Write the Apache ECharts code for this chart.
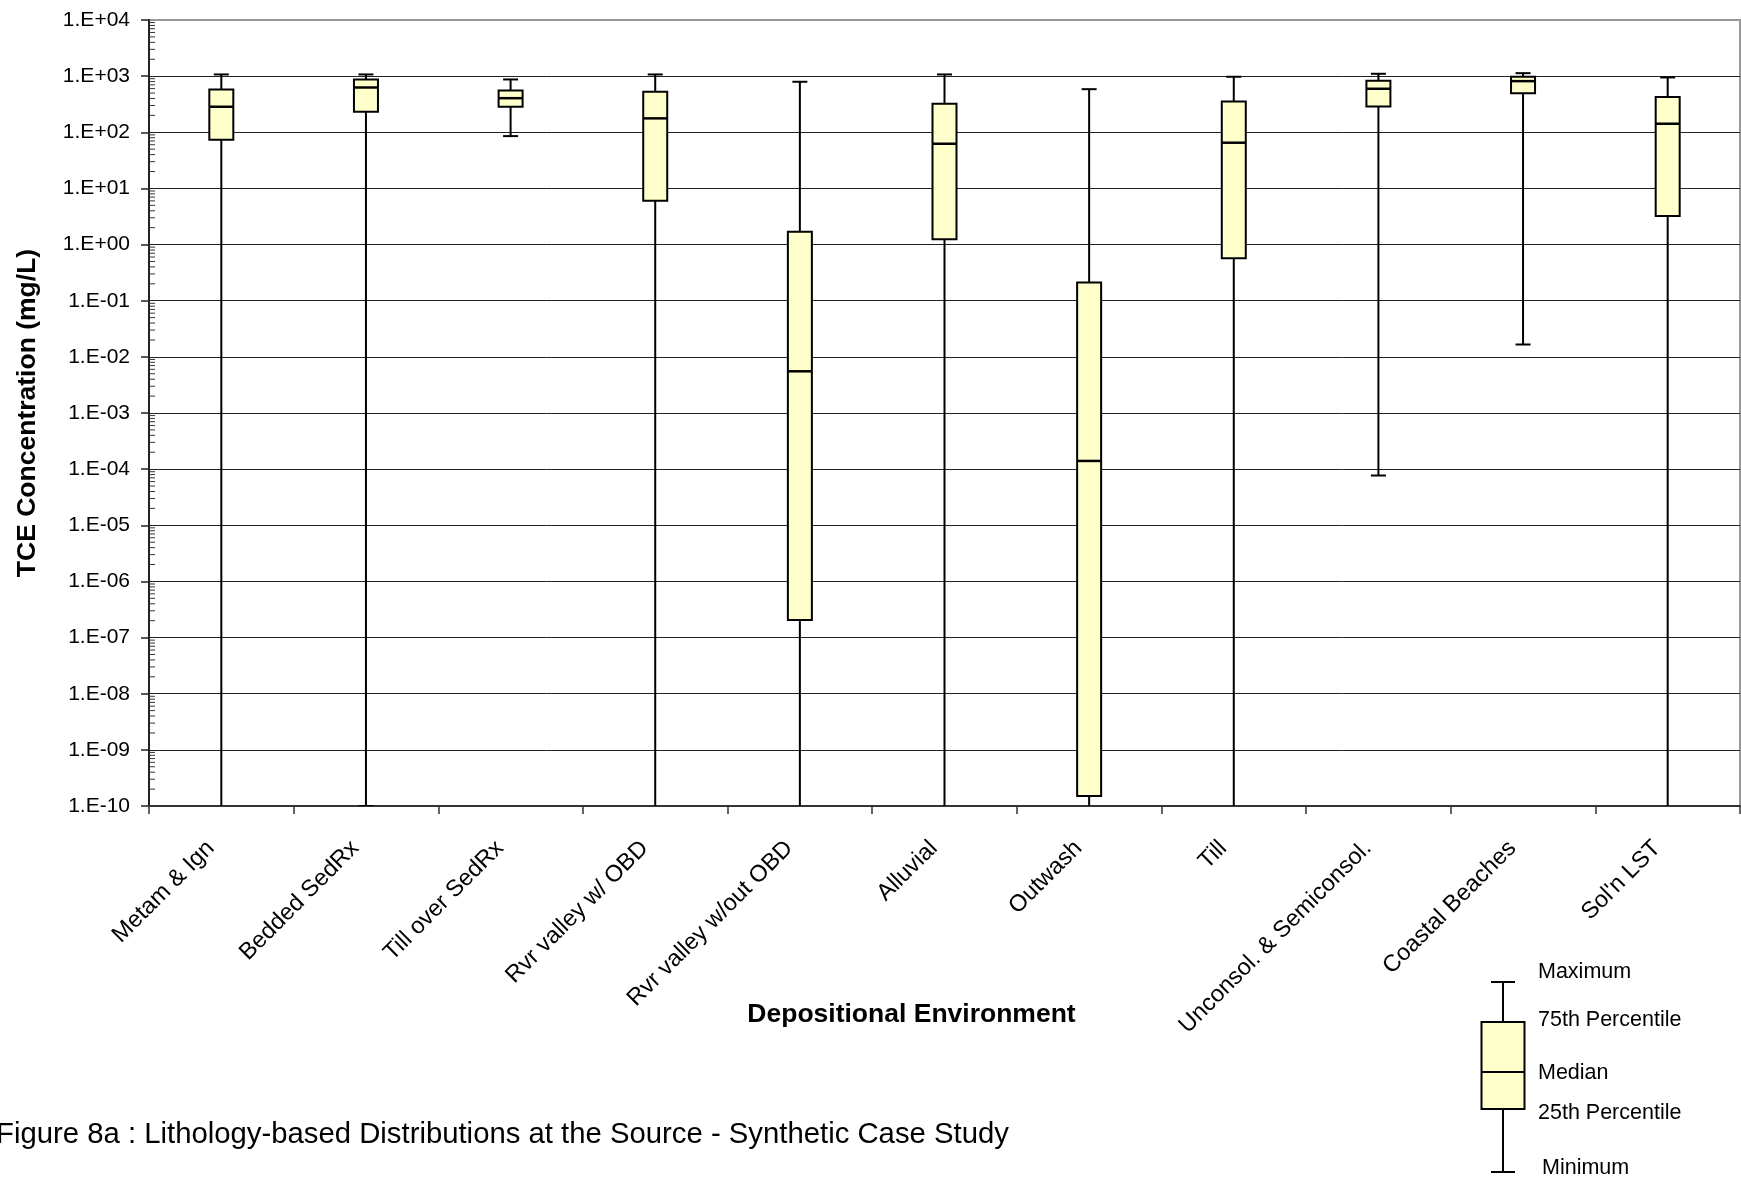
<!DOCTYPE html>
<html>
<head>
<meta charset="utf-8">
<script src="https://cdn.jsdelivr.net/npm/echarts@6/dist/echarts.min.js"></script>
<style>
html,body{margin:0;padding:0;background:#fff;}
#chart{width:1741px;height:1180px;}
</style>
</head>
<body>
<div id="chart"></div>
<script>
// ---- data ----
const categories = ['Metam & Ign','Bedded SedRx','Till over SedRx','Rvr valley w/ OBD','Rvr valley w/out OBD','Alluvial','Outwash','Till','Unconsol. & Semiconsol.','Coastal Beaches',"Sol'n LST"];
const minVals    = [1e-11, 1e-10, 85.5, 1e-11, 1e-11, 1e-11, 1e-11, 1e-11, 7.7e-5, 0.0166, 1e-11];
const q1Vals     = [73.8, 232, 285, 6.05, 2.05e-7, 1.24, 1.51e-10, 0.569, 288, 498, 3.22];
const medianVals = [285, 628, 405, 177, 5.53e-3, 62.5, 1.40e-4, 65.2, 596, 815, 142];
const q3Vals     = [579, 873, 556, 527, 1.70, 322, 0.21, 354, 828, 975, 423];
const maxVals    = [1072, 1072, 873, 1072, 794, 1072, 586, 975, 1102, 1130, 948];
const yMin = 1e-10, yMax = 1e4;
const legendLabels = ['Maximum','75th Percentile','Median','25th Percentile','Minimum'];
const caption = 'Figure 8a : Lithology-based Distributions at the Source - Synthetic Case Study';

// ---- build series data ----
const boxData = categories.map((c, i) => [i, minVals[i], q1Vals[i], medianVals[i], q3Vals[i], maxVals[i]]);
// log-axis minor ticks at 2..9 x 10^n (axis decoration)
const minorTicks = [];
for (let e = -10; e < 4; e++) for (let m = 2; m <= 9; m++) minorTicks.push([0, m * Math.pow(10, e)]);

function fmtExp(v) {
  const e = Math.round(Math.log10(v));
  const a = Math.abs(e);
  return '1.E' + (e < 0 ? '-' : '+') + (a < 10 ? '0' + a : '' + a);
}

const FONT = 'Liberation Sans, Arial, sans-serif';

function renderBox(params, api) {
  const cs = params.coordSys;
  const bottom = cs.y + cs.height;
  const i = api.value(0);
  const pMin = api.coord([i, api.value(1)]);
  const pQ1 = api.coord([i, api.value(2)]);
  const pMed = api.coord([i, api.value(3)]);
  const pQ3 = api.coord([i, api.value(4)]);
  const pMax = api.coord([i, api.value(5)]);
  const x = pMed[0];
  const bw = 24, cw = 15;
  const ls = {stroke: '#000', lineWidth: 2};
  const children = [];
  const yLow = Math.min(pMin[1], bottom);
  children.push({type: 'line', shape: {x1: x, y1: pMax[1], x2: x, y2: pQ3[1]}, style: ls});
  children.push({type: 'line', shape: {x1: x, y1: pQ1[1], x2: x, y2: yLow}, style: ls});
  children.push({type: 'line', shape: {x1: x - cw / 2, y1: pMax[1], x2: x + cw / 2, y2: pMax[1]}, style: ls});
  if (pMin[1] <= bottom + 0.5) {
    children.push({type: 'line', shape: {x1: x - cw / 2, y1: pMin[1], x2: x + cw / 2, y2: pMin[1]}, style: ls});
  }
  children.push({type: 'rect', shape: {x: x - bw / 2, y: pQ3[1], width: bw, height: pQ1[1] - pQ3[1]},
    style: {fill: '#FFFFCC', stroke: '#000', lineWidth: 2}});
  children.push({type: 'line', shape: {x1: x - bw / 2, y1: pMed[1], x2: x + bw / 2, y2: pMed[1]},
    style: {stroke: '#000', lineWidth: 2.5}});
  return {type: 'group', children: children};
}

function renderMinor(params, api) {
  const cs = params.coordSys;
  const y = api.coord([0, api.value(1)])[1];
  return {type: 'line', shape: {x1: cs.x, y1: y, x2: cs.x + 6, y2: y}, style: {stroke: '#333', lineWidth: 1}};
}

// legend key (decoration)
const LX = 1503, capW = 24, boxW = 43;
const legendGraphic = [
  {type: 'line', shape: {x1: LX - capW / 2, y1: 982, x2: LX + capW / 2, y2: 982}, style: {stroke: '#000', lineWidth: 2}},
  {type: 'line', shape: {x1: LX, y1: 982, x2: LX, y2: 1022}, style: {stroke: '#000', lineWidth: 2}},
  {type: 'rect', shape: {x: LX - boxW / 2, y: 1022, width: boxW, height: 87}, style: {fill: '#FFFFCC', stroke: '#000', lineWidth: 2}},
  {type: 'line', shape: {x1: LX - boxW / 2, y1: 1072, x2: LX + boxW / 2, y2: 1072}, style: {stroke: '#000', lineWidth: 2}},
  {type: 'line', shape: {x1: LX, y1: 1109, x2: LX, y2: 1172}, style: {stroke: '#000', lineWidth: 2}},
  {type: 'line', shape: {x1: LX - capW / 2, y1: 1172, x2: LX + capW / 2, y2: 1172}, style: {stroke: '#000', lineWidth: 2}}
];
const legendY = [972, 1020, 1073, 1113, 1168];
const legendX = [1538, 1538, 1538, 1538, 1542];
legendLabels.forEach((t, k) => {
  legendGraphic.push({type: 'text', x: legendX[k], y: legendY[k],
    style: {text: t, fill: '#000', font: '21.5px ' + FONT, textAlign: 'left', textVerticalAlign: 'middle'}});
});

const chart = echarts.init(document.getElementById('chart'), null, {renderer: 'canvas'});
chart.setOption({
  backgroundColor: '#fff',
  animation: false,
  textStyle: {fontFamily: FONT, color: '#000'},
  title: {
    text: caption, left: -4, top: 1120, padding: 0,
    textStyle: {fontFamily: FONT, fontSize: 29.3, fontWeight: 'normal', color: '#000'}
  },
  grid: {
    left: 149, right: 1, top: 20, bottom: 374,
    show: true, borderColor: '#999', borderWidth: 2, backgroundColor: '#fff',
    containLabel: false, outerBoundsMode: 'none'
  },
  xAxis: {
    type: 'category', data: categories, boundaryGap: true,
    name: 'Depositional Environment', nameLocation: 'middle', nameGap: 195, nameMoveOverlap: false,
    nameTextStyle: {fontFamily: FONT, fontSize: 26.5, fontWeight: 'bold', color: '#000', padding: [0, 66, 0, 0]},
    axisLine: {show: true, lineStyle: {color: '#333', width: 2}},
    axisTick: {show: true, length: 8, interval: 0, lineStyle: {color: '#333', width: 1.5}},
    axisLabel: {interval: 0, rotate: 45, margin: 28, padding: [0, 15, 0, 0], fontFamily: FONT, fontSize: 23.5, color: '#000', hideOverlap: false},
    splitLine: {show: false}
  },
  yAxis: {
    type: 'log', logBase: 10, min: yMin, max: yMax, interval: 1,
    name: 'TCE Concentration (mg/L)', nameLocation: 'middle', nameGap: 108, nameRotate: 90, nameMoveOverlap: false,
    nameTextStyle: {fontFamily: FONT, fontSize: 26.5, fontWeight: 'bold', color: '#000'},
    axisLine: {show: true, lineStyle: {color: '#222', width: 2}},
    axisTick: {show: true, length: 8, lineStyle: {color: '#222', width: 1.5}},
    axisLabel: {formatter: fmtExp, margin: 19, fontFamily: FONT, fontSize: 21, color: '#000'},
    splitLine: {show: true, showMaxLine: false, lineStyle: {color: '#222', width: 1}}
  },
  graphic: legendGraphic,
  series: [
    {type: 'custom', name: 'minorTicks', data: minorTicks, renderItem: renderMinor, silent: true, z: 3,
     encode: {x: 0, y: 1}},
    {type: 'custom', name: 'TCE', data: boxData, renderItem: renderBox, clip: true, z: 4,
     encode: {x: 0, y: [1, 2, 3, 4, 5]}}
  ]
});
</script>
</body>
</html>
